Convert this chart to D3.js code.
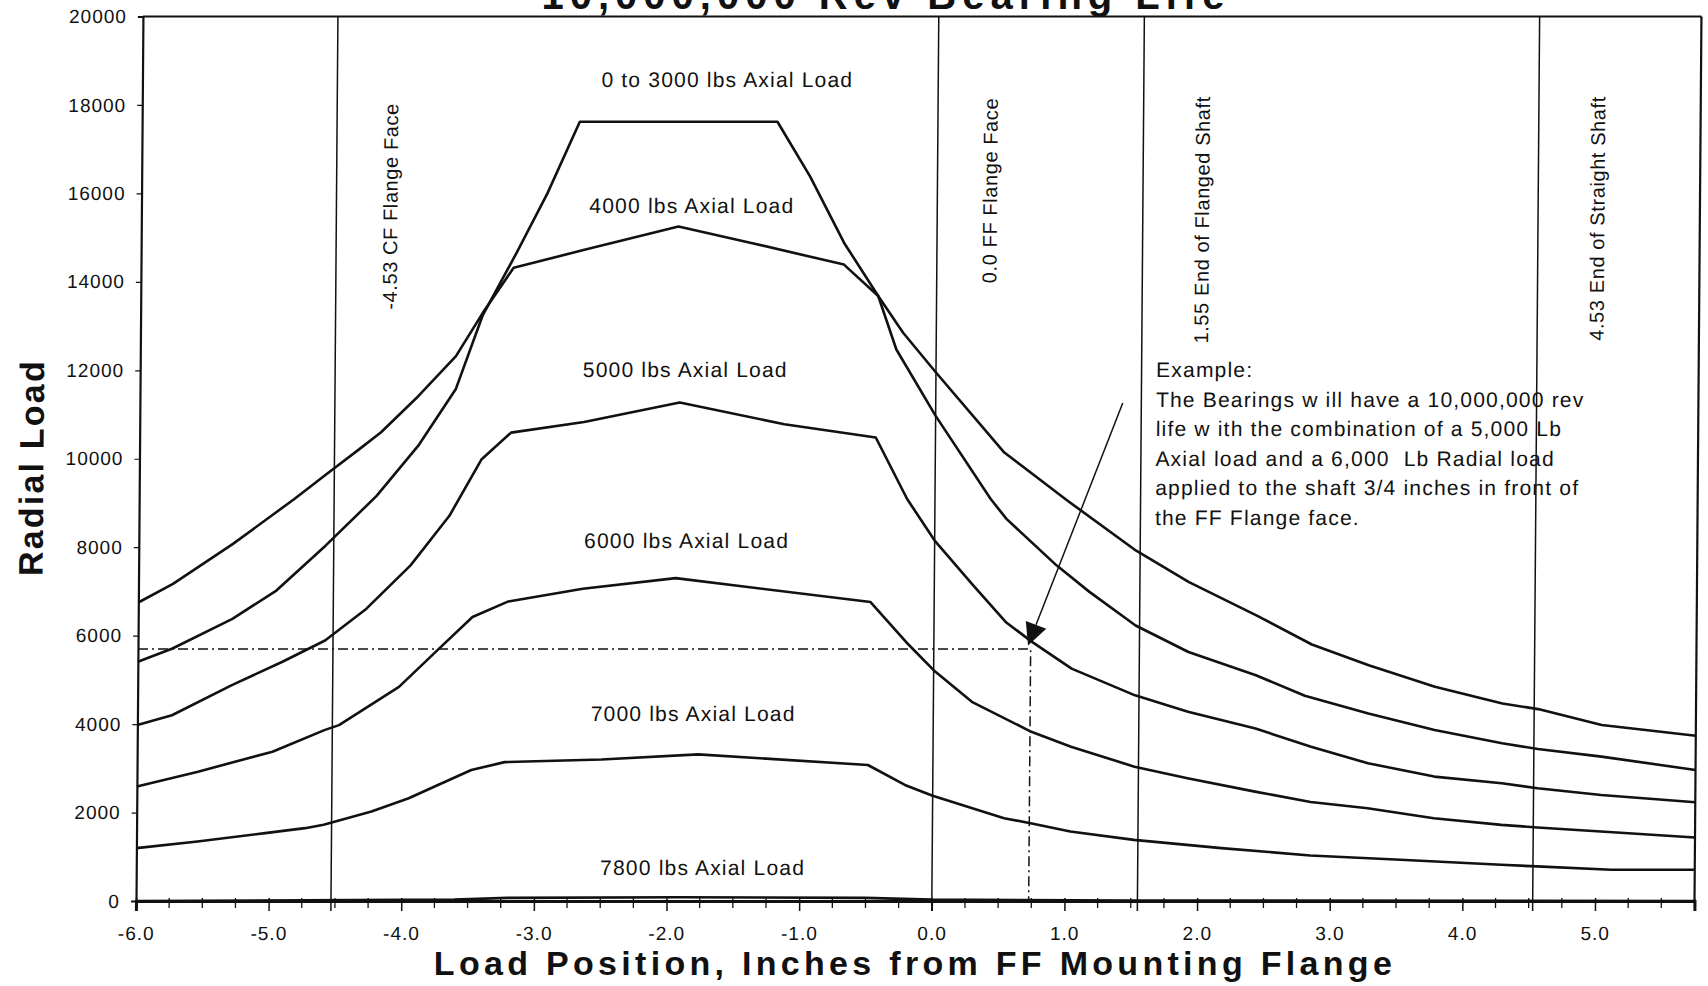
<!DOCTYPE html>
<html>
<head>
<meta charset="utf-8">
<script src="https://cdn.jsdelivr.net/npm/d3@7"></script>
<style>
  html, body { margin: 0; padding: 0; background: #fff; }
  svg { display: block; font-family: "Liberation Sans", Arial, sans-serif; }
</style>
</head>
<body>
<svg id="chart"></svg>
<script>
var W = 1708, H = 986;

// radial load (lbs) against load position (inches from FF flange)
var load0to3000 = [[-6.0,5410],[-5.74,5710],[-5.29,6380],[-4.96,7020],[-4.59,8040],[-4.21,9160],[-3.9,10290],
  [-3.62,11570],[-3.42,13250],[-3.17,14650],[-2.94,16000],[-2.70,17620],[-1.21,17620],[-0.96,16380],
  [-0.70,14880],[-0.44,13680],[-0.30,12470],[0.0,10970],[0.42,9090],[0.54,8640],[0.92,7590],[1.17,6990],
  [1.52,6230],[1.92,5630],[2.43,5105],[2.80,4640],[3.28,4241],[3.78,3866],[4.29,3565],[4.56,3437],
  [5.04,3264],[5.75,2963]];
var load4000 = [[-6.0,6750],[-5.74,7170],[-5.29,8075],[-4.83,9090],[-4.59,9650],[-4.35,10200],[-4.18,10600],
  [-3.9,11420],[-3.62,12320],[-3.42,13300],[-3.19,14320],[-2.65,14730],[-1.95,15250],[-1.40,14880],
  [-0.70,14390],[-0.44,13680],[-0.25,12850],[0.0,11950],[0.52,10140],[1.0,9050],[1.52,7920],[1.92,7210],
  [2.43,6460],[2.85,5800],[3.28,5330],[3.78,4843],[4.29,4466],[4.56,4339],[5.04,3978],[5.75,3737]];
var load5000 = [[-6.0,3980],[-5.74,4200],[-5.29,4880],[-4.91,5410],[-4.59,5890],[-4.28,6610],[-3.95,7590],
  [-3.66,8710],[-3.42,9990],[-3.20,10590],[-2.65,10830],[-1.93,11270],[-1.14,10780],[-0.45,10480],
  [-0.21,9090],[0.0,8150],[0.29,7150],[0.54,6310],[0.74,5860],[1.04,5255],[1.52,4650],[1.92,4280],
  [2.43,3900],[2.85,3490],[3.28,3114],[3.78,2813],[4.29,2663],[4.56,2549],[5.04,2398],[5.75,2233]];
var load6000 = [[-6.0,2590],[-5.54,2925],[-4.98,3376],[-4.59,3864],[-4.48,3977],[-4.03,4842],[-3.73,5706],
  [-3.48,6421],[-3.21,6774],[-2.65,7060],[-1.95,7300],[-0.48,6760],[-0.21,5857],[0.0,5220],[0.29,4503],
  [0.74,3826],[1.04,3488],[1.52,3037],[1.92,2774],[2.43,2473],[2.85,2240],[3.28,2098],[3.78,1872],
  [4.29,1722],[4.56,1662],[5.04,1571],[5.75,1436]];
var load7000 = [[-6.0,1195],[-5.54,1346],[-5.03,1534],[-4.73,1647],[-4.59,1722],[-4.23,2023],[-3.95,2323],
  [-3.73,2624],[-3.48,2962],[-3.23,3140],[-2.5,3200],[-1.77,3316],[-0.49,3075],[-0.21,2624],[0.0,2380],
  [0.54,1872],[0.74,1760],[1.04,1571],[1.52,1383],[2.18,1195],[2.85,1030],[3.53,932],[4.29,819],
  [4.56,782],[5.12,707],[5.75,707]];
var load7800 = [[-6.0,0],[-3.6,30],[-3.2,70],[-1.9,85],[-0.5,70],[0.0,30],[1.5,10],[5.75,0]];

var allSeries = [load0to3000, load4000, load5000, load6000, load7000, load7800];
var seriesNames = ["0 to 3000 lbs Axial Load", "4000 lbs Axial Load", "5000 lbs Axial Load",
  "6000 lbs Axial Load", "7000 lbs Axial Load", "7800 lbs Axial Load"];
var nameX = [-1.59, -1.85, -1.89, -1.87, -1.81, -1.73];
var nameY = [18400, 15560, 11850, 7980, 4080, 590];

var refX = [-4.53, 0, 1.55, 4.53];
var refNames = ["-4.53 CF Flange Face", "0.0 FF Flange Face", "1.55 End of Flanged Shaft", "4.53 End of Straight Shaft"];
var refNameX = [-4.07, 0.45, 2.05, 5.03];
var refNameTop = [18040, 18160, 18200, 18200];

var xTicks = [-6, -5, -4, -3, -2, -1, 0, 1, 2, 3, 4, 5];
var yTicks = [0, 2000, 4000, 6000, 8000, 10000, 12000, 14000, 16000, 18000, 20000];

var exampleX = 0.73, exampleY = 5700;
var arrowFrom = [1.41, 11260], arrowTo = [0.71, 5780];
var exampleLines = ["Example:",
  "The Bearings w ill have a 10,000,000 rev",
  "life w ith the combination of a 5,000 Lb",
  "Axial load and a 6,000  Lb Radial load",
  "applied to the shaft 3/4 inches in front of",
  "the FF Flange face."];
var exampleLeft = 1.66, exampleTop = 11850;

var svg = d3.select("#chart").attr("width", W).attr("height", H);

var x = d3.scaleLinear().domain([-6, 5.75]).range([136, 1694.5]);
var y = d3.scaleLinear().domain([0, 20000]).range([901, 16.5]);
var ink = "#111";

// the scan leans a little to the right at the top
var g = svg.append("g")
  .attr("transform", "translate(0,901) skewX(-0.45) translate(0,-901)");

// title, mostly cut off by the top edge
svg.append("text")
  .attr("x", 886).attr("y", 9)
  .attr("text-anchor", "middle")
  .style("font-size", "40px").style("font-weight", "bold")
  .style("letter-spacing", "6px").attr("fill", ink)
  .text("10,000,000 Rev Bearing Life");

// frame
g.append("line").attr("x1", x(-6)).attr("x2", x(5.75)).attr("y1", y(20000)).attr("y2", y(20000))
  .attr("stroke", ink).attr("stroke-width", 2.2);
g.append("line").attr("x1", x(5.75)).attr("x2", x(5.75)).attr("y1", y(20000)).attr("y2", y(0))
  .attr("stroke", ink).attr("stroke-width", 2.2);

// reference lines
g.selectAll(".ref").data(refX).enter().append("line")
  .attr("x1", d => x(d)).attr("x2", d => x(d))
  .attr("y1", y(20000)).attr("y2", y(0) + 10)
  .attr("stroke", ink).attr("stroke-width", 1.5);

g.selectAll(".refname").data(refNames).enter().append("text")
  .attr("transform", (d, i) => "translate(" + x(refNameX[i]) + "," + y(refNameTop[i]) + ") rotate(-90)")
  .attr("text-anchor", "end")
  .style("font-size", "20px").style("letter-spacing", "0.6px")
  .attr("fill", ink)
  .text(d => d);

// y axis
var yAxis = g.append("g")
  .attr("transform", "translate(" + x(-6) + ",0)")
  .call(d3.axisLeft(y).tickValues(yTicks).tickSize(5).tickPadding(11).tickFormat(d => String(d)));
yAxis.select(".domain").attr("stroke", ink).attr("stroke-width", 2.2);
yAxis.selectAll(".tick line").attr("stroke", ink).attr("stroke-width", 1.2);
yAxis.selectAll("text").attr("fill", ink)
  .style("font-size", "19px").style("letter-spacing", "1px")
  .style("font-family", "'Liberation Sans', Arial, sans-serif");

// x axis
var xAxis = g.append("g")
  .attr("transform", "translate(0," + y(0) + ")")
  .call(d3.axisBottom(x).tickValues(xTicks).tickSize(10).tickPadding(16).tickFormat(d => d.toFixed(1)));
xAxis.select(".domain").attr("stroke", ink).attr("stroke-width", 3);
xAxis.selectAll(".tick line").attr("stroke", ink).attr("stroke-width", 1.5).attr("y1", -3);
xAxis.selectAll("text").attr("fill", ink)
  .style("font-size", "19px").style("letter-spacing", "1px")
  .style("font-family", "'Liberation Sans', Arial, sans-serif");

var minorTicks = d3.range(-5.75, 5.76, 0.25).filter(v => Math.abs(v - Math.round(v)) > 0.01);
g.selectAll(".minor").data(minorTicks).enter().append("line")
  .attr("x1", d => x(d)).attr("x2", d => x(d))
  .attr("y1", y(0) - 3).attr("y2", y(0) + 7)
  .attr("stroke", ink).attr("stroke-width", 1.3);

// example read-off lines
g.append("path")
  .attr("d", "M" + x(-6) + "," + y(exampleY) + "H" + x(exampleX) + "V" + y(0))
  .attr("fill", "none").attr("stroke", ink).attr("stroke-width", 1.5)
  .attr("stroke-dasharray", "10,4,2,4");

// curves
var line = d3.line().x(d => x(d[0])).y(d => y(d[1]));
g.selectAll(".curve").data(allSeries).enter().append("path")
  .attr("d", line)
  .attr("fill", "none").attr("stroke", ink)
  .attr("stroke-width", 2.6).attr("stroke-linejoin", "round");

g.selectAll(".cname").data(seriesNames).enter().append("text")
  .attr("x", (d, i) => x(nameX[i])).attr("y", (d, i) => y(nameY[i]))
  .attr("text-anchor", "middle")
  .style("font-size", "21px").style("letter-spacing", "1.2px")
  .attr("fill", ink)
  .text(d => d);

// arrow
var ax0 = x(arrowFrom[0]), ay0 = y(arrowFrom[1]);
var ax1 = x(arrowTo[0]), ay1 = y(arrowTo[1]);
var len = Math.hypot(ax1 - ax0, ay1 - ay0);
var ux = (ax1 - ax0) / len, uy = (ay1 - ay0) / len;
var bx = ax1 - ux * 22, by = ay1 - uy * 22;
g.append("line").attr("x1", ax0).attr("y1", ay0).attr("x2", bx).attr("y2", by)
  .attr("stroke", ink).attr("stroke-width", 1.5);
g.append("path")
  .attr("d", "M" + ax1 + "," + ay1 + "L" + (bx - uy * 11) + "," + (by + ux * 11) +
    "L" + (bx + uy * 11) + "," + (by - ux * 11) + "Z")
  .attr("fill", ink);

// example note
var note = g.append("text")
  .attr("x", x(exampleLeft)).attr("y", y(exampleTop))
  .style("font-size", "21px").style("letter-spacing", "1.2px")
  .attr("fill", ink);
note.selectAll("tspan").data(exampleLines).enter().append("tspan")
  .attr("x", x(exampleLeft))
  .attr("dy", (d, i) => i === 0 ? 0 : 29.6)
  .style("white-space", "pre")
  .text(d => d);

// axis titles
g.append("text")
  .attr("transform", "translate(40," + y(9800) + ") rotate(-90)")
  .attr("text-anchor", "middle")
  .style("font-size", "34px").style("font-weight", "bold").style("letter-spacing", "2.2px")
  .attr("fill", ink)
  .text("Radial Load");

svg.append("text")
  .attr("x", 915).attr("y", 975)
  .attr("text-anchor", "middle")
  .style("font-size", "34px").style("font-weight", "bold").style("letter-spacing", "4.3px")
  .attr("fill", ink)
  .text("Load Position, Inches from FF Mounting Flange");
</script>
</body>
</html>
